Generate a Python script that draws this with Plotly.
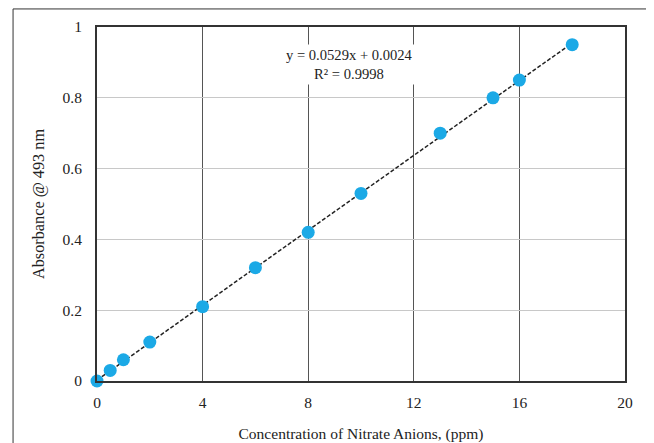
import numpy as np
import plotly.graph_objects as go

conc = [0, 0.5, 1, 2, 4, 6, 8, 10, 13, 15, 16, 18]
absorb = [0.0, 0.03, 0.06, 0.11, 0.21, 0.32, 0.42, 0.53, 0.70, 0.80, 0.85, 0.95]
slope, intercept = 0.0529, 0.0024
x_ticks = [0, 4, 8, 12, 16, 20]
y_ticks = [0, 0.2, 0.4, 0.6, 0.8, 1]
y_tick_text = ["0", "0.2", "0.4", "0.6", "0.8", "1"]

font = "Liberation Serif, Times New Roman, serif"
fs = 15.5
fit_x = np.array([min(conc), max(conc)])
fit_y = slope * fit_x + intercept

fig = go.Figure()
fig.add_trace(go.Scatter(x=fit_x, y=fit_y, mode="lines",
                         line=dict(color="#222222", width=1.5, dash="4px,2px"),
                         showlegend=False, hoverinfo="skip", cliponaxis=False))
fig.add_trace(go.Scatter(x=conc, y=absorb, mode="markers",
                         marker=dict(color="#1BA9E6", size=13),
                         showlegend=False, cliponaxis=False))

# page body has an 8px margin, so the figure is sized/offset accordingly
fig.update_layout(
    width=646, height=435,
    margin=dict(l=89, r=29, t=19, b=62, autoexpand=False),
    paper_bgcolor="white", plot_bgcolor="white",
    font=dict(family=font, size=fs, color="#222222"),
    showlegend=False,
)
fig.update_xaxes(range=[0, 20], tickvals=x_ticks, showgrid=True, gridcolor="#555555", gridwidth=1,
                 zeroline=False, showline=True, linecolor="#333333", linewidth=2, mirror=True,
                 ticks="", ticklen=0, ticklabelstandoff=6, automargin=False,
                 title=dict(text="Concentration of Nitrate Anions, (ppm)", standoff=19,
                            font=dict(family=font, size=fs)))
fig.update_yaxes(range=[0, 1], tickvals=y_ticks, ticktext=y_tick_text, showgrid=True,
                 gridcolor="#C8C8C8", gridwidth=1,
                 zeroline=False, showline=True, linecolor="#333333", linewidth=2, mirror=True,
                 ticks="", ticklen=0, ticklabelstandoff=10, automargin=False,
                 title=dict(text="Absorbance @ 493 nm", standoff=14,
                            font=dict(family=font, size=16.3)))

fig.add_annotation(xref="paper", yref="paper", x=0.479, y=0.893,
                   xanchor="center", yanchor="middle",
                   text=f"y = {slope}x + {intercept}<br>R² = 0.9998",
                   showarrow=False, bgcolor="white", borderpad=2,
                   font=dict(family=font, size=14.6, color="#222222"), align="center")

fig.add_shape(type="rect", xref="paper", yref="paper",
              x0=-0.159, x1=1.047, y0=-0.2, y1=1.051,
              line=dict(color="#333333", width=1), fillcolor="rgba(0,0,0,0)", layer="below")

fig.write_html("out.html")
